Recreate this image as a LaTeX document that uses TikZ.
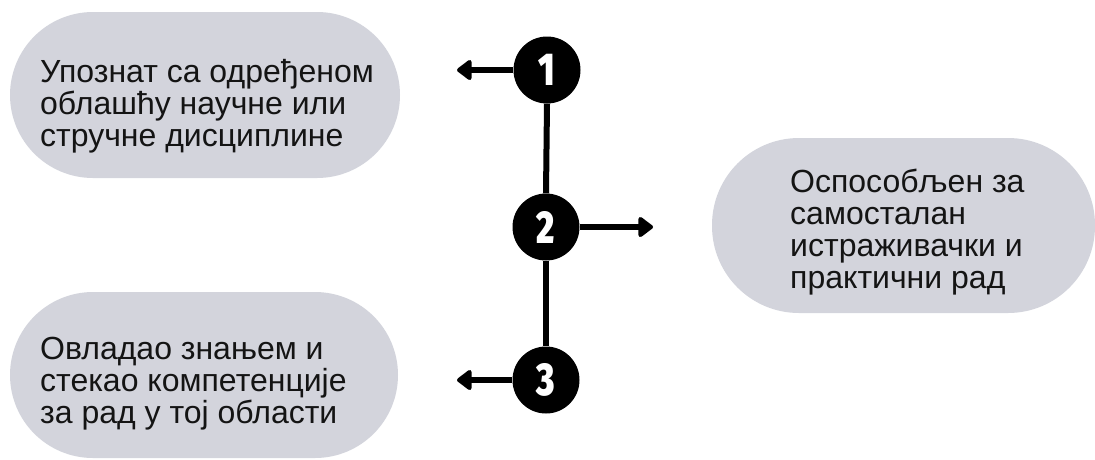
\documentclass[tikz,border=0pt]{standalone}
\usepackage{fontspec}
\setmainfont{Liberation Sans}
\newfontfamily\numfont{Fira Sans}[UprightFont=* Black]
\usetikzlibrary{arrows.meta}
\definecolor{pillgray}{RGB}{211,212,220}
\definecolor{txt}{RGB}{20,20,20}
\tikzset{
  pill/.style={fill=pillgray, draw=none, inner sep=0pt},
  ptext/.style={anchor=west, align=left, inner sep=0pt, text=txt,
    font=\fontsize{32}{32}\selectfont},
  numdot/.style={circle, fill=black, minimum size=67pt, inner sep=0pt,
    text=white, font=\numfont\fontsize{46}{46}\selectfont},
  link/.style={line width=6pt},
  pointer/.style={line width=6pt, -{Triangle[round, length=16pt, width=23pt]}}
}
\begin{document}
\begin{tikzpicture}[x=1pt, y=-1pt]
\useasboundingbox (0,0) rectangle (1095,459);
% pills
\fill[pillgray, rounded corners=83pt] (10,12) rectangle (400,178);
\fill[pillgray, rounded corners=87pt] (712,138) rectangle (1095,313);
\fill[pillgray, rounded corners=83pt] (10,292) rectangle (398,458);
\node[ptext] (t1) at (40,106) {Упознат са одређеном\\облашћу научне или\\стручне дисциплине};
\node[ptext] (t2) at (790,232) {Оспособљен за\\самосталан\\истраживачки и\\практични рад};
\node[ptext] (t3) at (40,384) {Овладао знањем и\\стекао компетенције\\за рад у тој области};
% markers
\node[numdot] (n1) at (547,70) {\scalebox{0.75}[1]{1}};
\node[numdot] (n2) at (546,227) {\scalebox{0.75}[1]{2}};
\node[numdot] (n3) at (546,380) {\scalebox{0.75}[1]{3}};
\coordinate (e1) at (457,70);
\coordinate (e2) at (653,227);
\coordinate (e3) at (457,383);
\draw[link] (n1.south) -- (n2.north);
\draw[link] (n2.south) -- (n3.north);
\draw[pointer] (n1.west) -- (e1);
\draw[pointer] (n2.east) -- (e2);
\draw[pointer] (n3.west) -- (n3.west -| e3);
\end{tikzpicture}
\end{document}
